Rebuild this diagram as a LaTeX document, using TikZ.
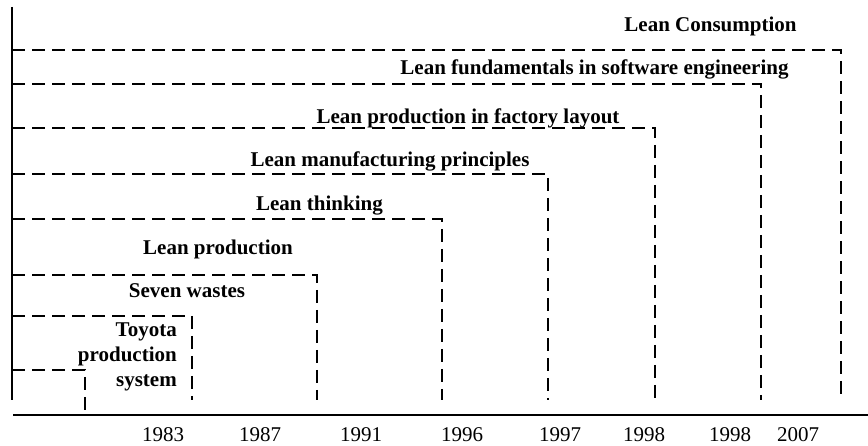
\documentclass[tikz,border=0pt]{standalone}
\usepackage{fontspec}
\setmainfont{Liberation Serif}
\begin{document}
\begin{tikzpicture}[x=1pt,y=-1pt,
 dline/.style={line width=2pt, dash pattern=on 13pt off 7pt},
 axis/.style={line width=2.2pt},
 lab/.style={font=\fontsize{21}{25}\selectfont\bfseries, inner sep=0pt, anchor=base},
 yr/.style={font=\fontsize{21}{25}\selectfont, inner sep=0pt, anchor=base}]
\useasboundingbox (0,0) rectangle (868,446);
% axes
\coordinate (vtop) at (12,7);
\coordinate (vbot) at (12,400);
\coordinate (hl) at (13,415);
\coordinate (hr) at (868,415);
\draw[axis] (vtop) -- (vbot);
\draw[axis] (hl) -- (hr);
% dashed steps
\foreach \n/\y/\x/\b in {1/50/841/400, 2/84/761/400, 3/128/655/400, 4/174/548/400, 5/219/442/400, 6/275/317/400, 7/316/192/400, 8/370/85/415}{
  \coordinate (s\n) at (12,\y);
  \coordinate (e\n) at (\x,\y);
  \coordinate (b\n) at (\x,\b);
  \draw[dline] (s\n) -- (e\n) -- (b\n);
}
% labels
\node[lab] (l1) at (710.5,32) {Lean Consumption};
\node[lab] (l2) at (594.5,75) {Lean fundamentals in software engineering};
\node[lab] (l3) at (468,124) {Lean production in factory layout};
\node[lab] (l4) at (390,167) {Lean manufacturing principles};
\node[lab, anchor=base east] (l5) at (383,211) {Lean thinking};
\node[lab] (l6) at (218,255) {Lean production};
\node[lab] (l7) at (187,298) {Seven wastes};
\node[lab, anchor=base east] (l8a) at (177,337) {Toyota};
\node[lab, anchor=base east] (l8b) at (177,362) {production};
\node[lab, anchor=base east] (l8c) at (177,387) {system};
% years
\foreach \n/\x/\t in {1/163/1983, 2/260/1987, 3/361/1991, 4/462/1996, 5/560/1997, 6/644/1998, 7/730/1998, 8/798/2007}{
  \node[yr] (y\n) at (\x,442) {\t};
}
\end{tikzpicture}
\end{document}
